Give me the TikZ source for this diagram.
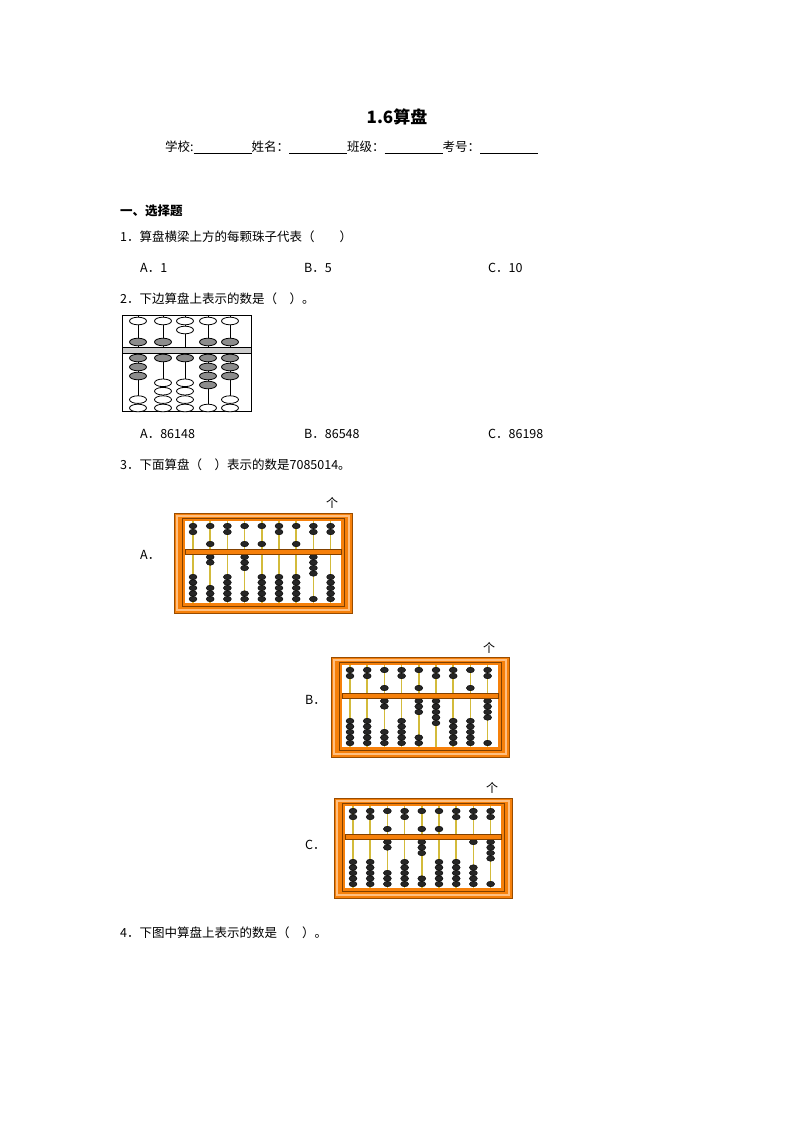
\documentclass[tikz,border=0pt]{standalone}
\usepackage{fontspec}
\newfontfamily\cjk{Noto Sans CJK SC}
\begin{document}
\begin{tikzpicture}[x=1pt,y=-1pt,
  txt/.style={anchor=west,inner sep=0pt,font=\cjk\fontsize{12.5}{14}\selectfont},
  bead/.style={fill=black!85,draw=black},
  sbw/.style={fill=white,draw=black,line width=0.8pt},
  sbg/.style={fill=black!45,draw=black,line width=0.8pt}]
\useasboundingbox (0,0) rectangle (794,1123);
\node[inner sep=0pt,font=\cjk\bfseries\fontsize{17}{19}\selectfont] (title) at (397,117) {1.6算盘};
\newcommand\ul{\underline{\hspace{58pt}}}
\node[txt] (info) at (165,147) {学校:\ul 姓名：\ul 班级：\ul 考号：\ul};
\node[txt,font=\cjk\bfseries\fontsize{12.5}{14}\selectfont] (sec) at (120,211) {一、选择题};
\node[txt] (q1) at (120,237) {1．算盘横梁上方的每颗珠子代表（　　）};
\node[txt] (q1a) at (140,268) {A．1};
\node[txt] (q1b) at (304,268) {B．5};
\node[txt] (q1c) at (488,268) {C．10};
\node[txt] (q2) at (120,299) {2．下边算盘上表示的数是（　）。};
\node[txt] (q2a) at (140,434) {A．86148};
\node[txt] (q2b) at (304,434) {B．86548};
\node[txt] (q2c) at (488,434) {C．86198};
\node[txt] (q3) at (120,465) {3．下面算盘（　）表示的数是7085014。};
\node[txt] (q4) at (120,933) {4．下图中算盘上表示的数是（　）。};
% small abacus
\draw[line width=1pt] (122,315) rectangle (251,411);
\foreach \x/\u/\l in {138/1/3,163/1/1,185/0/1,208/1/4,230/1/3}{
  \draw[line width=0.8pt] (\x,315) -- (\x,411);
  \ifnum\u=1
    \draw[sbw] (\x,321) ellipse (8.5 and 3.8);
    \draw[sbg] (\x,342) ellipse (8.5 and 3.8);
  \else
    \draw[sbw] (\x,321) ellipse (8.5 and 3.8);
    \draw[sbw] (\x,330) ellipse (8.5 and 3.8);
  \fi
  \foreach \k in {1,...,5}{
    \ifnum\k>\l
      \pgfmathsetmacro\yy{408-8.4*(5-\k)}
      \draw[sbw] (\x,\yy) ellipse (8.5 and 3.8);
    \else
      \pgfmathsetmacro\yy{358+9*(\k-1)}
      \draw[sbg] (\x,\yy) ellipse (8.5 and 3.8);
    \fi
  }
}
\draw[fill=black!20,line width=0.8pt] (122,347) rectangle (251,353);
% big abaci
\newcommand\bigabacus[3]{%
\begin{scope}[shift={(#1,#2)}]
  \fill[orange!85!brown] (0,0) rectangle (178,100);
  \draw[orange!60!black,line width=1pt] (0,0) rectangle (178,100);
  \draw[orange!50!white,line width=1.5pt] (3,3) rectangle (175,97);
  \draw[orange!50!black,line width=1pt] (8,5) rectangle (170,93);
  \fill[white] (11,8) rectangle (167,90);
  \foreach \u/\l [count=\i from 0] in {#3}{
    \pgfmathsetmacro\xx{19+17.2*\i}
    \draw[yellow!60!brown!90!black,line width=1.6pt] (\xx,8) -- (\xx,90);
    \ifnum\u=1
      \fill[bead] (\xx,13) ellipse (4 and 2.8);
      \fill[bead] (\xx,31) ellipse (4 and 2.8);
    \else
      \fill[bead] (\xx,13) ellipse (4 and 2.8);
      \fill[bead] (\xx,19) ellipse (4 and 2.8);
    \fi
    \foreach \k in {1,...,5}{
      \ifnum\k>\l
        \pgfmathsetmacro\yy{86-5.5*(5-\k)}
      \else
        \pgfmathsetmacro\yy{44+5.5*(\k-1)}
      \fi
      \fill[bead] (\xx,\yy) ellipse (4 and 2.8);
    }
  }
  \fill[orange!85!brown] (11,36) rectangle (167,41);
  \draw[orange!50!black,line width=0.5pt] (11,36) rectangle (167,41);
\end{scope}}
\bigabacus{174}{513}{0/0,1/2,0/0,1/3,1/0,0/0,1/0,0/4,0/0}
\bigabacus{331}{657}{0/0,0/0,1/2,0/0,1/3,0/5,0/0,1/0,0/4}
\bigabacus{334}{798}{0/0,0/0,1/2,0/0,1/3,1/0,0/0,0/1,0/4}
\node[txt] (la) at (140,555) {A．};
\node[txt] (lb) at (305,700) {B．};
\node[txt] (lc) at (305,845) {C．};
\node[inner sep=0pt,font=\cjk\fontsize{12}{14}\selectfont] (ga) at (332,503) {个};
\node[inner sep=0pt,font=\cjk\fontsize{12}{14}\selectfont] (gb) at (489,648) {个};
\node[inner sep=0pt,font=\cjk\fontsize{12}{14}\selectfont] (gc) at (492,788) {个};
\end{tikzpicture}
\end{document}
